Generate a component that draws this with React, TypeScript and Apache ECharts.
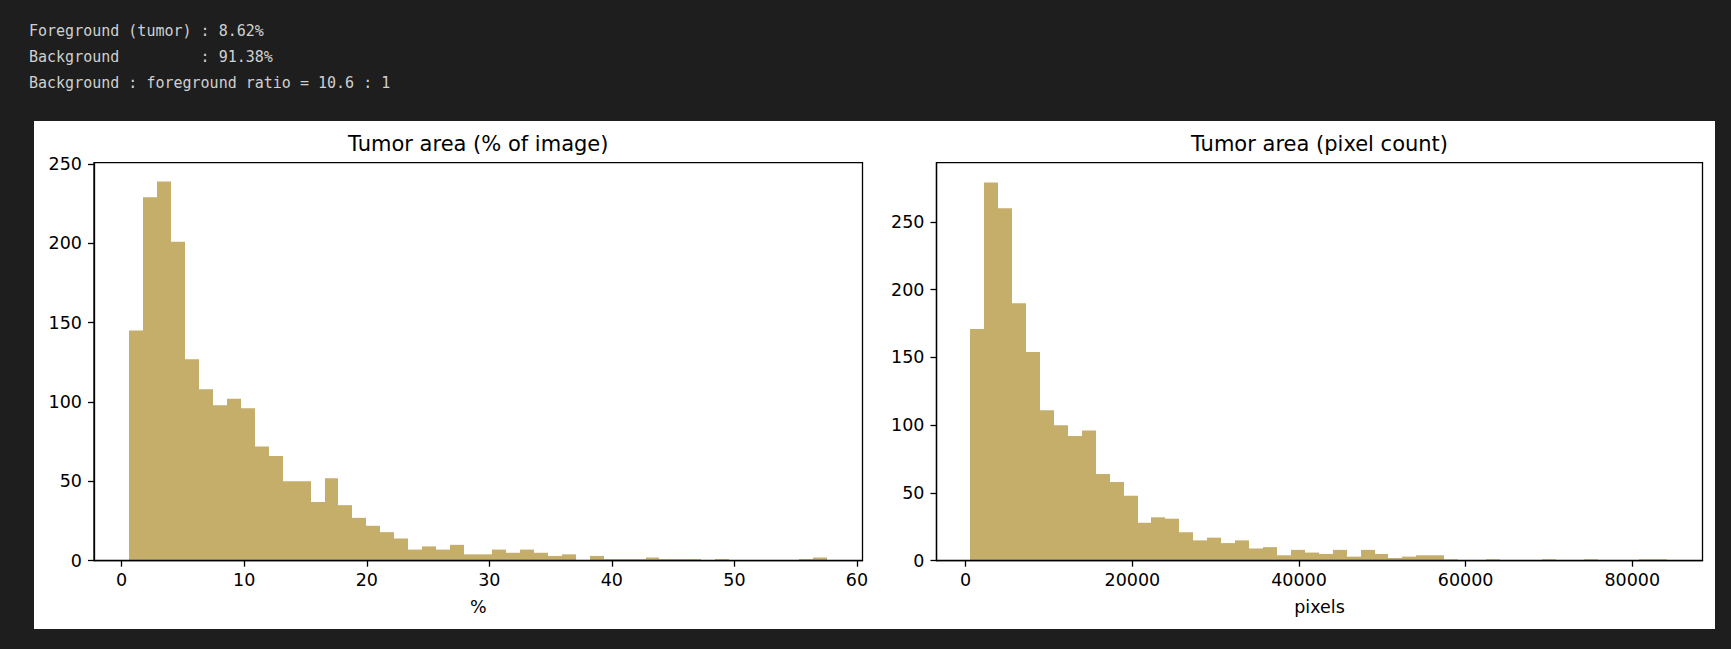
import React, { useEffect, useRef } from 'react';
import * as echarts from 'echarts';

// ---------- data ----------
const headerLines = [
  'Foreground (tumor) : 8.62%',
  'Background         : 91.38%',
  'Background : foreground ratio = 10.6 : 1',
];

const pctTitle = 'Tumor area (% of image)';
const pctAxisName = '%';
const pctBinMin = 0.61;
const pctBinMax = 57.55;
const pctCounts = [
  145, 229, 239, 201, 127, 108, 98, 102, 96, 72,
  66, 50, 50, 37, 52, 35, 27, 22, 18, 14,
  7, 9, 7, 10, 4, 4, 7, 5, 7, 5,
  3, 4, 0, 3, 1, 1, 1, 2, 1, 1,
  1, 0, 1, 0, 0, 0, 0, 0, 1, 2,
];
const pctXTicks = [0, 10, 20, 30, 40, 50, 60];
const pctYTicks = [0, 50, 100, 150, 200, 250];

const pxTitle = 'Tumor area (pixel count)';
const pxAxisName = 'pixels';
const pxBinMin = 550;
const pxBinMax = 84200;
const pxCounts = [
  171, 279, 260, 190, 154, 111, 100, 92, 96, 64,
  58, 48, 28, 32, 31, 21, 15, 17, 13, 15,
  9, 10, 4, 8, 6, 5, 8, 3, 8, 5,
  2, 3, 4, 4, 1, 0, 0, 1, 0, 0,
  0, 1, 0, 0, 1, 0, 0, 0, 1, 1,
];
const pxXTicks = [0, 20000, 40000, 60000, 80000];
const pxYTicks = [0, 50, 100, 150, 200, 250];

// ---------- styles ----------
const BAR = '#c4ae6a';
const PAGE_BG = '#1e1e1e';
const TXT = '#000';
const FONT = 'DejaVu Sans';

function bins(min: number, max: number, counts: number[]) {
  const w = (max - min) / counts.length;
  return counts.map((c, i) => [min + i * w, min + (i + 1) * w, c]);
}

const renderHist = (params: any, api: any) => {
  const c = api.value(2);
  if (!c) return null;
  const p0 = api.coord([api.value(0), c]);
  const p1 = api.coord([api.value(1), 0]);
  const x0 = Math.round(p0[0]);
  const x1 = Math.round(p1[0]);
  return {
    type: 'rect',
    shape: { x: x0, y: p0[1], width: x1 - x0, height: p1[1] - p0[1] },
    style: { fill: BAR },
  };
};

const axisLineStyle = { color: '#000', width: 1.3 };
const labelStyle = { color: TXT, fontSize: 17.5, fontFamily: FONT };
const plain = (v: number) => String(v);

function xAxisCfg(grid: number, min: number, max: number, ticks: number[], name: string) {
  return {
    type: 'value',
    gridIndex: grid,
    min,
    max,
    z: 10,
    axisLine: { show: true, onZero: false, lineStyle: axisLineStyle },
    axisTick: { show: true, inside: false, length: 6, lineStyle: axisLineStyle, customValues: ticks },
    axisLabel: { ...labelStyle, margin: 10, customValues: ticks, formatter: plain },
    splitLine: { show: false },
    name,
    nameLocation: 'middle',
    nameGap: 37,
    nameTextStyle: { ...labelStyle },
  };
}

function yAxisCfg(grid: number, max: number, ticks: number[]) {
  return {
    type: 'value',
    gridIndex: grid,
    min: 0,
    max,
    z: 10,
    axisLine: { show: true, onZero: false, lineStyle: axisLineStyle },
    axisTick: { show: true, inside: false, length: 6, lineStyle: axisLineStyle, customValues: ticks },
    axisLabel: { ...labelStyle, margin: 12, customValues: ticks, formatter: plain },
    splitLine: { show: false },
  };
}

export default function App() {
  const ref = useRef<HTMLDivElement>(null);

  useEffect(() => {
    document.body.style.margin = '0';
    document.body.style.background = PAGE_BG;
    const chart = echarts.init(ref.current!, undefined, { renderer: 'svg' });

    const gridTop = 162.7;
    const gridH = 398;
    const g0 = { left: 94, width: 768.5 };
    const g1 = { left: 936.5, width: 766 };

    chart.setOption({
      animation: false,
      backgroundColor: PAGE_BG,
      grid: [
        { left: g0.left, top: gridTop, width: g0.width, height: gridH, show: true, borderColor: '#000', borderWidth: 1.3, backgroundColor: 'transparent' },
        { left: g1.left, top: gridTop, width: g1.width, height: gridH, show: true, borderColor: '#000', borderWidth: 1.3, backgroundColor: 'transparent' },
      ],
      xAxis: [
        xAxisCfg(0, -2.258, 60.45, pctXTicks, pctAxisName),
        xAxisCfg(1, -3501, 88428, pxXTicks, pxAxisName),
      ],
      yAxis: [yAxisCfg(0, 250.8, pctYTicks), yAxisCfg(1, 293.6, pxYTicks)],
      graphic: [
        { type: 'rect', z: -100, shape: { x: 34, y: 121, width: 1681, height: 508 }, style: { fill: '#fff' } },
        ...headerLines.map((t, i) => ({
          type: 'text',
          x: 29,
          y: 31 + i * 25.8,
          style: { text: t, fill: '#d0d0d0', fontSize: 15, fontFamily: 'DejaVu Sans Mono', align: 'left', verticalAlign: 'middle' },
        })),
        {
          type: 'text',
          x: g0.left + g0.width / 2,
          y: 144,
          style: { text: pctTitle, fill: TXT, fontSize: 21, fontFamily: FONT, align: 'center', verticalAlign: 'middle' },
        },
        {
          type: 'text',
          x: g1.left + g1.width / 2,
          y: 144,
          style: { text: pxTitle, fill: TXT, fontSize: 21, fontFamily: FONT, align: 'center', verticalAlign: 'middle' },
        },
      ],
      series: [
        {
          type: 'custom',
          xAxisIndex: 0,
          yAxisIndex: 0,
          renderItem: renderHist,
          encode: { x: [0, 1], y: 2 },
          data: bins(pctBinMin, pctBinMax, pctCounts),
        },
        {
          type: 'custom',
          xAxisIndex: 1,
          yAxisIndex: 1,
          renderItem: renderHist,
          encode: { x: [0, 1], y: 2 },
          data: bins(pxBinMin, pxBinMax, pxCounts),
        },
      ],
    });

    return () => chart.dispose();
  }, []);

  return <div ref={ref} style={{ position: 'absolute', left: 0, top: 0, width: 1731, height: 649 }} />;
}
